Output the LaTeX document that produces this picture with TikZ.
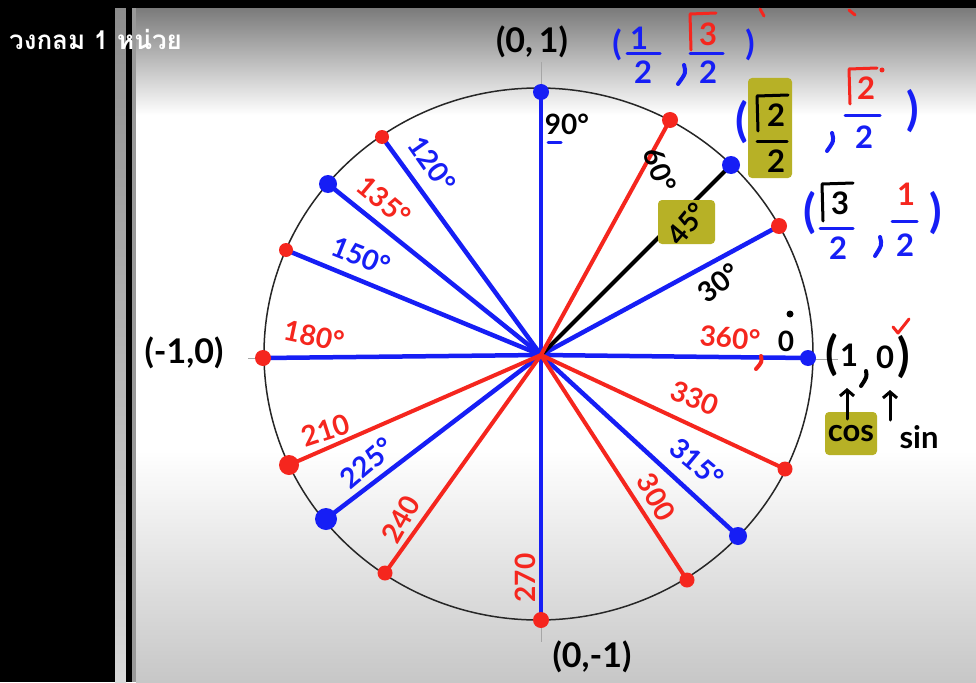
\documentclass[tikz,border=0pt]{standalone}
\usepackage{fontspec}
\setmainfont{Lato}
\newfontfamily\thaifont[Script=Thai]{Loma}
\usetikzlibrary{arrows.meta}
\definecolor{myblue}{RGB}{22,30,245}
\definecolor{myred}{RGB}{245,38,30}
\definecolor{olive}{RGB}{183,177,38}
\begin{document}
\begin{tikzpicture}[x=1pt,y=-1pt,
  hand/.style={font=\bfseries\fontsize{28}{28}\selectfont, inner sep=0pt},
  fr/.style={font=\bfseries\fontsize{31}{31}\selectfont, inner sep=0pt},
  big/.style={font=\bfseries\fontsize{34}{34}\selectfont, inner sep=0pt},
  huge/.style={font=\bfseries\fontsize{46}{46}\selectfont, inner sep=0pt},
  bline/.style={draw=myblue, line width=4.5pt},
  rline/.style={draw=myred, line width=4pt},
  kline/.style={draw=black, line width=4pt},
  bdot/.style={fill=myblue, circle, inner sep=0pt, minimum size=#1},
  rdot/.style={fill=myred, circle, inner sep=0pt, minimum size=#1},
  pen/.style={line width=3pt, line cap=round, line join=round},
  comma/.style={line width=4pt, line cap=round},
  axis/.style={draw=black!35, line width=1pt},
  hl/.style={fill=olive, rounded corners=4pt},
]
\useasboundingbox (0,0) rectangle (976,682);
% ---------- background ----------
\fill[white] (0,0) rectangle (976,682);
\shade[top color=black!52, bottom color=white] (136,8) rectangle (976,115);
\shade[top color=white, bottom color=black!22] (136,450) rectangle (976,682);
\fill[black] (0,0) rectangle (115,682);
\shade[top color=black!45, bottom color=black!15] (115,8) rectangle (126,682);
\fill[black] (126,8) rectangle (132,682);
\fill[black!40] (132,8) rectangle (136,682);
\fill[black] (0,0) rectangle (976,8);
\node[anchor=west, text=white, font=\thaifont\bfseries\fontsize{26}{26}\selectfont, inner sep=0pt] (title) at (9,39) {วงกลม 1 หน่วย};
% ---------- axes & circle ----------
\coordinate (O) at (541,355);
\coordinate (a1) at (541,62); \coordinate (a2) at (541,95);
\coordinate (a3) at (541,615); \coordinate (a4) at (541,642);
\coordinate (a5) at (805,359); \coordinate (a6) at (838,359);
\coordinate (a7) at (248,358); \coordinate (a8) at (262,358);
\draw[axis] (a1) -- (a2); \draw[axis] (a3) -- (a4);
\draw[axis] (a5) -- (a6); \draw[axis] (a7) -- (a8);
\draw[line width=1.5pt, black!85] (538.5,354) ellipse [x radius=274.5, y radius=266];
% ---------- points ----------
\coordinate (p0) at (808,358);
\coordinate (p30) at (779,226);
\coordinate (p45) at (731,165);
\coordinate (p60) at (670,120);
\coordinate (p90) at (541,92);
\coordinate (p120) at (382,137);
\coordinate (p135) at (328,184);
\coordinate (p150) at (286,250);
\coordinate (p180) at (263,358);
\coordinate (p210) at (289,465);
\coordinate (p225) at (326,519);
\coordinate (p240) at (385,573);
\coordinate (p270) at (541,620);
\coordinate (p300) at (687,580);
\coordinate (p315) at (738,536);
\coordinate (p330) at (785,469);
% ---------- spokes ----------
\draw[bline] (O) -- (p90);
\draw[bline] (O) -- (p120);
\draw[bline] (O) -- (p135);
\draw[bline] (O) -- (p150);
\draw[bline] (O) -- (p180);
\draw[bline] (O) -- (p225);
\draw[bline] (O) -- (p270);
\draw[bline] (O) -- (p315);
\draw[bline] (O) -- (p0);
\draw[bline] (O) -- (p30);
\draw[kline] (O) -- (p45);
\draw[rline] (O) -- (p60);
\draw[rline] (O) -- (p210);
\draw[rline] (O) -- (p240);
\draw[rline] (O) -- (p300);
\draw[rline] (O) -- (p330);
% ---------- dots ----------
\node[bdot=16pt] (d90) at (p90) {};
\node[bdot=18pt] (d45) at (p45) {};
\node[bdot=16pt] (d0) at (p0) {};
\node[bdot=18pt] (d135) at (p135) {};
\node[bdot=22pt] (d225) at (p225) {};
\node[bdot=18pt] (d315) at (p315) {};
\node[rdot=16pt] (d60) at (p60) {};
\node[rdot=16pt] (d30) at (p30) {};
\node[rdot=14pt] (d120) at (p120) {};
\node[rdot=14pt] (d150) at (p150) {};
\node[rdot=16pt] (d180) at (p180) {};
\node[rdot=20pt] (d210) at (p210) {};
\node[rdot=15pt] (d240) at (p240) {};
\node[rdot=16pt] (d270) at (p270) {};
\node[rdot=15pt] (d300) at (p300) {};
\node[rdot=15pt] (d330) at (p330) {};
% ---------- angle labels ----------
\node[hand] (l90) at (567,124) {90°};
\coordinate (u1) at (548,142); \coordinate (u2) at (561,142);
\draw[myblue, pen] (u1) -- (u2);
\node[hand, rotate=-70] (l60) at (660,170) {60°};
\fill[hl] (658,200) rectangle (715,244);
\node[hand, rotate=50] (l45) at (687,224) {45°};
\node[hand, rotate=38] (l30) at (719,283) {30°};
\node[hand, text=myred, rotate=-5] (l360) at (730,338) {360°};
\draw[myred, comma] (761,356) .. controls (762,362) .. (756,369);
\node[hand] (l0) at (786,341) {0};
\fill (790,314) circle (3.5pt);
\node[hand, text=myblue, rotate=-55] (l120) at (432,164) {120°};
\node[hand, text=myred, rotate=-40] (l135) at (384,201) {135°};
\node[hand, text=myblue, rotate=-22] (l150) at (361,256) {150°};
\node[hand, text=myred, rotate=-12] (l180) at (314,336) {180°};
\node[hand, text=myred, rotate=18] (l210) at (326,430) {210};
\node[hand, text=myblue, rotate=40] (l225) at (367,463) {225°};
\node[hand, text=myred, rotate=60] (l240) at (401,519) {240};
\node[hand, text=myred, rotate=90] (l270) at (525,578) {270};
\node[hand, text=myred, rotate=-60] (l300) at (656,497) {300};
\node[hand, text=myblue, rotate=-40] (l315) at (697,463) {315°};
\node[hand, text=myred, rotate=-22] (l330) at (695,398) {330};
% ---------- axis coordinates ----------
\node[big] (q90) at (532,42) {(0,\,1)};
\node[big] (q180) at (184,353) {(-1,0)};
\node[big] (q270) at (592,657) {(0,-1)};
% (1/2, sqrt3/2)
\node[big, text=myblue] (f1a) at (617,45) {(};
\node[fr, text=myblue] (f1n) at (639,38) {1};
\draw[myblue, pen] (627,54) -- (660,54);
\node[fr, text=myblue] (f1d) at (643,72) {2};
\draw[myblue, comma] (684,65) .. controls (686,73) .. (678,84);
\draw[myred, pen] (691,50) -- (690,14) -- (716,13);
\node[fr, text=myred] (f1r) at (708,34) {3};
\draw[myblue, pen] (690,54) -- (723,54);
\node[fr, text=myblue] (f1e) at (708,72) {2};
\node[big, text=myblue] (f1b) at (750,45) {)};
\draw[myred, pen] (760,9) -- (764,16);
\draw[myred, pen] (849,10) -- (855,15);
% (sqrt2/2, sqrt2/2)
\fill[hl] (748,78) rectangle (792,178);
\node[huge, text=myblue] (f2a) at (742,122) {(};
\draw[black, pen] (758,131) -- (757,96) -- (788,95);
\node[fr] (f2r) at (776,115) {2};
\draw[black, pen] (757,141) -- (787,141);
\node[fr] (f2d) at (776,161) {2};
\draw[myblue, comma] (832,133) .. controls (834,141) .. (827,151);
\draw[myred, pen] (850,104) -- (849,69) -- (877,68);
\fill[myred] (882,70) circle (2.5pt);
\node[fr, text=myred] (f2s) at (866,88) {2};
\draw[myblue, pen] (845,116) -- (880,116);
\node[fr, text=myblue] (f2e) at (864,137) {2};
\node[huge, text=myblue] (f2b) at (913,111) {)};
% (sqrt3/2, 1/2)
\node[huge, text=myblue] (f3a) at (810,213) {(};
\draw[black, pen] (823,221) -- (822,184) -- (853,183);
\node[fr] (f3r) at (840,203) {3};
\draw[myblue, pen] (820,228) -- (853,228);
\node[fr, text=myblue] (f3d) at (838,248) {2};
\draw[myblue, comma] (880,237) .. controls (882,245) .. (875,256);
\node[fr, text=myred] (f3n) at (906,194) {1};
\draw[myblue, pen] (892,221) -- (917,221);
\node[fr, text=myblue] (f3e) at (905,245) {2};
\node[huge, text=myblue] (f3b) at (936,213) {)};
% (1,0) cos sin
\node[huge] (g1) at (832,355) {(};
\node[fr] (g2) at (849,355) {1};
\draw[black, comma] (866,371) .. controls (867,377) .. (861,386);
\node[fr] (g3) at (885,357) {0};
\node[huge] (g4) at (904,357) {)};
\draw[myred, pen] (893,327) -- (898,333) -- (909,319);
\fill[hl] (825,412) rectangle (877,455);
\node[fr] (cosn) at (851,434) {cos};
\node[fr] (sinn) at (919,437) {sin};
\coordinate (ar1) at (847,419); \coordinate (ar2) at (847,388);
\coordinate (ar3) at (890,420); \coordinate (ar4) at (890,390);
\draw[pen, -{Straight Barb[length=6pt,width=14pt]}] (ar1) -- (ar2);
\draw[pen, -{Straight Barb[length=6pt,width=14pt]}] (ar3) -- (ar4);
\end{tikzpicture}
\end{document}
